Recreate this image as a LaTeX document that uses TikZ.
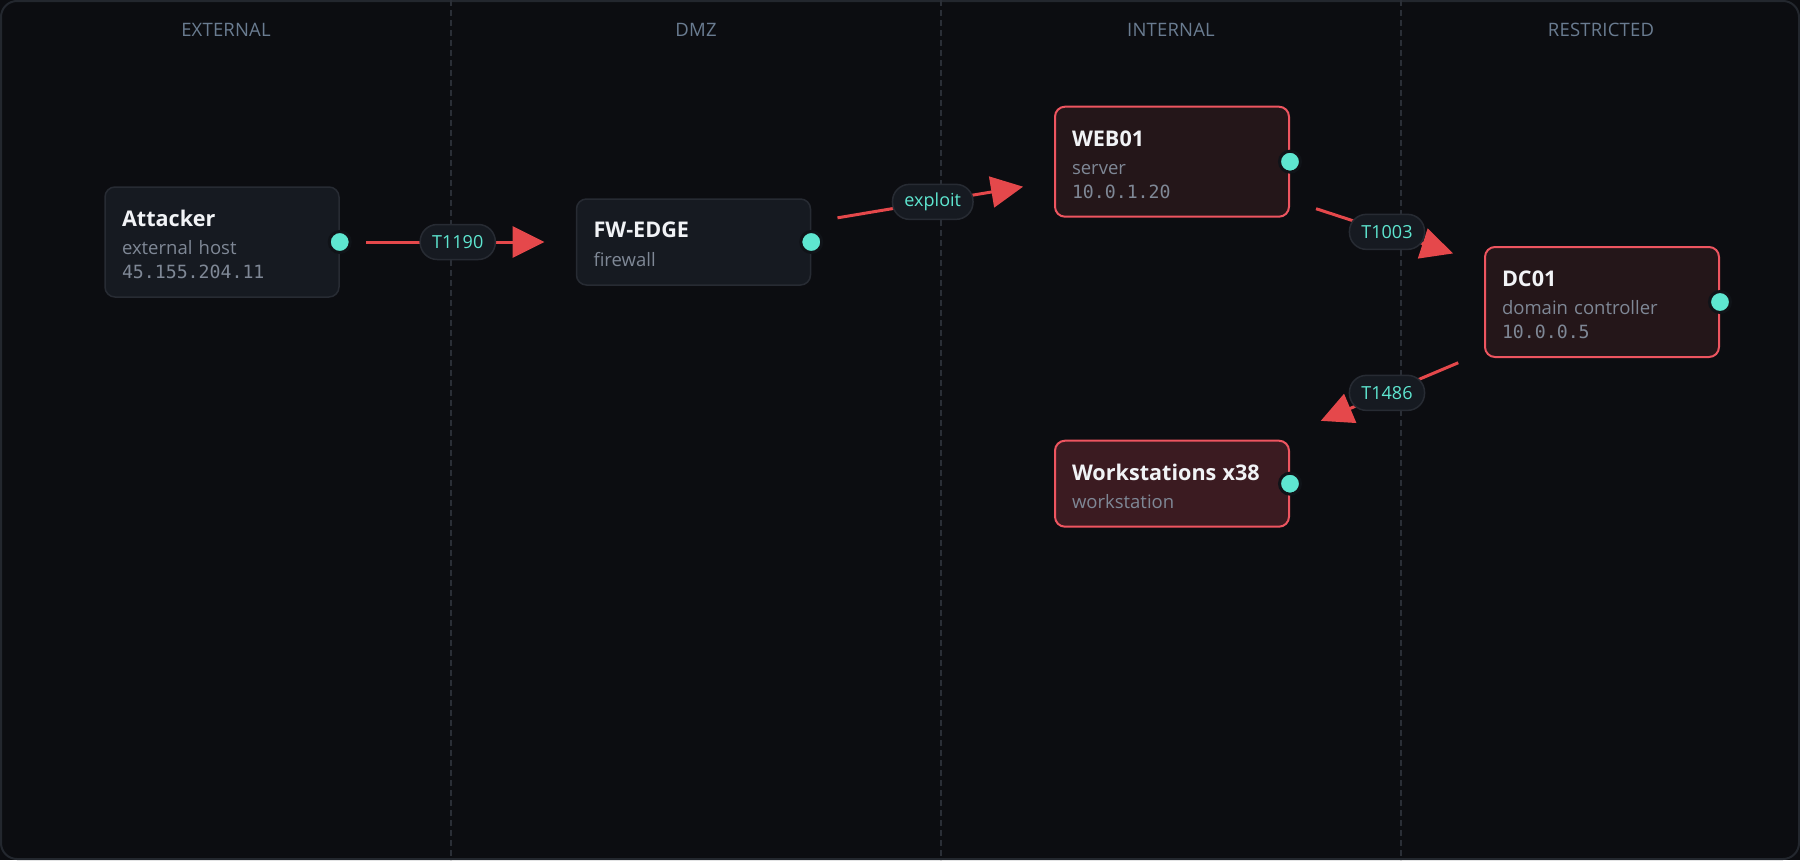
\documentclass[tikz,border=0pt]{standalone}
\usepackage{fontspec}
\setmainfont{Open Sans}
\setmonofont{DejaVu Sans Mono}
\newfontfamily\zonefont[LetterSpace=1]{Open Sans}
\usetikzlibrary{arrows.meta, positioning, calc}

\definecolor{canvas}{HTML}{0C0D11}
\definecolor{frameline}{HTML}{23272E}
\definecolor{zoneline}{HTML}{2A2E36}
\definecolor{zonetext}{HTML}{6A7C91}
\definecolor{hostfill}{HTML}{161A21}
\definecolor{hostline}{HTML}{272B33}
\definecolor{hitfill}{HTML}{241619}
\definecolor{spreadfill}{HTML}{3B1B21}
\definecolor{hitline}{HTML}{EE5560}
\definecolor{attackred}{HTML}{E5484B}
\definecolor{tealtxt}{HTML}{5EE6D0}
\definecolor{titletxt}{HTML}{F1F3F6}
\definecolor{subtxt}{HTML}{7F8896}
\definecolor{ringcol}{HTML}{101318}

\newcommand{\hosttitle}[1]{{\bfseries\fontsize{21.6}{24}\selectfont\color{titletxt}\rule{0pt}{21pt}#1}}
\newcommand{\hostkind}[1]{{\color{subtxt}#1}}
\newcommand{\hostip}[1]{{\ttfamily\fontsize{18.2}{24}\selectfont\color{subtxt}#1}}

\begin{document}
\begin{tikzpicture}[
    x=1pt, y=-1pt,
    font=\fontsize{18.5}{24}\selectfont,
    host/.style={
      draw=hostline, fill=hostfill, line width=1.5pt,
      rounded corners=10pt,
      text width=200pt, inner xsep=17pt, inner ysep=0pt,
      align=left, minimum height=110pt
    },
    hit/.style={host, draw=hitline, fill=hitfill, line width=2pt},
    port/.style={
      circle, fill=tealtxt, draw=ringcol, line width=3pt,
      minimum size=21pt, inner sep=0pt
    },
    pill/.style={
      fill=hostfill, draw=hostline, line width=1.5pt,
      rounded corners=17pt, minimum height=35pt,
      inner xsep=12pt, inner ysep=0pt,
      text=tealtxt, font=\fontsize{18}{20}\selectfont
    },
    zone/.style={anchor=base, text=zonetext, font=\zonefont\fontsize{18.5}{20}\selectfont},
    divider/.style={draw=zoneline, line width=1.5pt, dash pattern=on 6pt off 4pt},
    attack/.style={draw=attackred, line width=3pt, -{Triangle[length=32pt, width=31pt]}}
  ]

  % ===== Canvas =====
  \useasboundingbox (0,0) rectangle (1800,860);
  \fill[canvas] (0,0) rectangle (1800,860);
  \draw[frameline, line width=2pt, rounded corners=16pt] (1,1) rectangle (1799,859);

  % ===== Zones =====
  \draw[divider] (451,0) -- (451,860);
  \draw[divider] (941,0) -- (941,860);
  \draw[divider] (1401,0) -- (1401,860);

  \node[zone] (z-ext)  at (226,36)  {EXTERNAL};
  \node[zone] (z-dmz)  at (696,36)  {DMZ};
  \node[zone] (z-int)  at (1171,36) {INTERNAL};
  \node[zone] (z-rest) at (1601,36) {RESTRICTED};

  % ===== Hosts =====
  \node[host] (attacker) at (222,242)
    {\hosttitle{Attacker}\\[4pt] \hostkind{external host}\\ \hostip{45.155.204.11}};
  \node[host, minimum height=86pt, right=236pt of attacker] (fw)
    {\hosttitle{FW-EDGE}\\[5pt] \hostkind{firewall}};
  \node[hit] (web01) at (1172,161.7)
    {\hosttitle{WEB01}\\[4pt] \hostkind{server}\\ \hostip{10.0.1.20}};
  \node[hit] (dc01) at (1602,302)
    {\hosttitle{DC01}\\[4pt] \hostkind{domain controller}\\ \hostip{10.0.0.5}};
  \node[hit, fill=spreadfill, minimum height=86pt, below=222pt of web01] (ws)
    {\hosttitle{Workstations x38}\\[4pt] \hostkind{workstation}};

  % ports
  \node[port] (attacker-port) at (attacker.east) {};
  \node[port] (fw-port)       at (fw.east) {};
  \node[port] (web01-port)    at (web01.east) {};
  \node[port] (dc01-port)     at (dc01.east) {};
  \node[port] (ws-port)       at (ws.east) {};

  % ===== Attack path =====
  \draw[attack, shorten <=144pt, shorten >=149pt]
    (attacker.center) -- node[pill] (t1190) {T1190} (fw.center);
  \draw[attack, shorten <=146pt, shorten >=151pt]
    (fw.center) -- node[pill] (exploit) {exploit} (web01.center);
  \draw[attack, shorten <=151.5pt, shorten >=156.6pt]
    (web01.center) -- node[pill] (t1003) {T1003} (dc01.center);
  \draw[attack, shorten <=156.1pt, shorten >=161.5pt]
    (dc01.center) -- node[pill] (t1486) {T1486} (ws.center);
\end{tikzpicture}
\end{document}
